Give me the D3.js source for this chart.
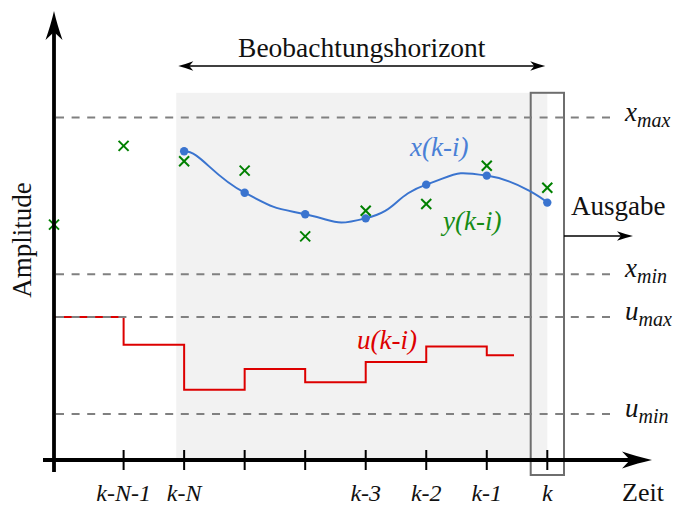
<!DOCTYPE html>
<html>
<head>
<meta charset="utf-8">
<script src="https://cdn.jsdelivr.net/npm/d3@7/dist/d3.min.js"></script>
<style>
  html, body { margin: 0; padding: 0; background: #fff; }
</style>
</head>
<body>
<svg id="chart" width="678" height="506"></svg>
<script>
// Time steps: index 0 = k-N-1 ... index 7 = k; t0 is the origin of the time axis
const t0 = -1.15;
const tickIndex = [0, 1, 2, 3, 4, 5, 6, 7];
const tickLabels = ["k-N-1", "k-N", "", "", "k-3", "k-2", "k-1", "k"];

// Estimated states x(k-i) at k-N ... k
const stateTimes = [1, 2, 3, 4, 5, 6, 7];
const stateValues = [68.6, 59.4, 54.6, 53.7, 61.2, 63.2, 57.2];

// Measurements y(k-i)
const measTimes = [t0, 0, 1, 2, 3, 4, 5, 6, 7];
const measValues = [52.3, 69.8, 66.4, 64.3, 49.7, 55.4, 56.9, 65.4, 60.5];

// Inputs u(k-i), piecewise constant
const inputTimes = [t0, 0, 1, 2, 3, 4, 5, 6, 6.45];
const inputValues = [31.8, 25.6, 15.6, 20.2, 17.3, 21.8, 25.2, 23.3, 23.3];

// Constraint levels
const limitNames = [["x", "max"], ["x", "min"], ["u", "max"], ["u", "min"]];
const limitValues = [76.1, 41.3, 31.8, 10.2];

// Observation horizon
const horizonStart = 0.87;
const horizonEnd = 7;
const horizonTop = 81.6;

const svg = d3.select("#chart");
const x = d3.scaleLinear().domain([t0, 7]).range([54, 547.3]);
const y = d3.scaleLinear().domain([0, 100]).range([460, 10]);

function label(parent, px, py, str, size, opts = {}) {
  const t = parent.append("text").attr("x", px).attr("y", py)
    .style("font-family", '"Liberation Serif"')
    .style("font-size", size + "px")
    .attr("fill", opts.color || "#111")
    .attr("text-anchor", opts.anchor || "start");
  if (opts.italic) t.style("font-style", "italic");
  if (str !== null) t.text(str);
  return t;
}

// stealth-style arrow head: tip (tx,ty), direction angle, length, half width, notch inset
function arrowHead(g, tx, ty, ang, len, hw, inset, color) {
  const c = Math.cos(ang), s = Math.sin(ang);
  const pt = (a, b) => [tx - a * c - b * s, ty - a * s + b * c];
  const p = d3.path();
  const A = pt(0, 0), B = pt(len, hw), C = pt(len - inset, 0), D = pt(len, -hw);
  p.moveTo(A[0], A[1]);
  p.quadraticCurveTo(...pt(len * 0.45, hw * 0.35), B[0], B[1]);
  p.lineTo(C[0], C[1]);
  p.lineTo(D[0], D[1]);
  p.quadraticCurveTo(...pt(len * 0.45, -hw * 0.35), A[0], A[1]);
  p.closePath();
  g.append("path").attr("d", p.toString()).attr("fill", color);
}

// loose smooth spline through points (tension-style control points),
// leaving the first point horizontally
function smoothPath(pts, f = 0.275) {
  const p = d3.path();
  const n = pts.length;
  p.moveTo(pts[0][0], pts[0][1]);
  for (let i = 0; i < n - 1; i++) {
    const a = pts[i], b = pts[i + 1];
    let c0, c1;
    if (i === 0) {
      c0 = [a[0] + f * (pts[Math.min(2, n - 1)][0] - a[0]) * 0.5, a[1]];
    } else {
      const pr = pts[i - 1];
      c0 = [a[0] + f * (b[0] - pr[0]), a[1] + f * (b[1] - pr[1])];
    }
    if (i === n - 2) {
      c1 = [b[0], b[1]];
    } else {
      const nx = pts[i + 2];
      c1 = [b[0] - f * (nx[0] - a[0]), b[1] - f * (nx[1] - a[1])];
    }
    p.bezierCurveTo(c0[0], c0[1], c1[0], c1[1], b[0], b[1]);
  }
  return p.toString();
}

// observation window background
svg.append("rect")
  .attr("x", x(horizonStart)).attr("y", y(horizonTop))
  .attr("width", x(horizonEnd) - x(horizonStart))
  .attr("height", y(0) - y(horizonTop))
  .attr("fill", "#f2f2f2");

// output step frame around k
svg.append("rect")
  .attr("x", x(7) - 16.6).attr("y", y(horizonTop))
  .attr("width", 33.3).attr("height", y(0) - y(horizonTop) + 15)
  .attr("fill", "none").attr("stroke", "#6e6e6e").attr("stroke-width", 2);

// input trajectory
svg.append("path")
  .datum(inputTimes.map((t, i) => [t, inputValues[i]]))
  .attr("d", d3.line().x(d => x(d[0])).y(d => y(d[1])).curve(d3.curveStepAfter))
  .attr("fill", "none").attr("stroke", "#dd0000").attr("stroke-width", 2);

// constraint lines and labels
limitValues.forEach((v, i) => {
  svg.append("line")
    .attr("x1", x(t0) + 2).attr("x2", 610)
    .attr("y1", y(v)).attr("y2", y(v))
    .attr("stroke", "#808080").attr("stroke-width", 2)
    .attr("stroke-dasharray", "8,7.6");
  const t = label(svg, 625, y(v) + 3, null, 27, { italic: true });
  t.append("tspan").text(limitNames[i][0]);
  t.append("tspan").attr("dy", 6).style("font-size", "20px").text(limitNames[i][1]);
});

// state trajectory
const statePts = stateTimes.map((t, i) => [x(t), y(stateValues[i])]);
svg.append("path")
  .attr("d", smoothPath(statePts))
  .attr("fill", "none").attr("stroke", "#3a74cf").attr("stroke-width", 2);

svg.selectAll("circle.state")
  .data(stateTimes.map((t, i) => [t, stateValues[i]]))
  .join("circle").attr("class", "state")
  .attr("cx", d => x(d[0])).attr("cy", d => y(d[1])).attr("r", 4.2)
  .attr("fill", "#3a74cf");

// measurements
const cross = svg.append("g").attr("stroke", "#008000").attr("stroke-width", 2);
measTimes.forEach((t, i) => {
  const cx = x(t), cy = y(measValues[i]), r = 5;
  cross.append("line").attr("x1", cx - r).attr("y1", cy - r).attr("x2", cx + r).attr("y2", cy + r);
  cross.append("line").attr("x1", cx - r).attr("y1", cy + r).attr("x2", cx + r).attr("y2", cy - r);
});

// axes
const axes = svg.append("g");
axes.append("line").attr("x1", 43).attr("x2", 630).attr("y1", y(0)).attr("y2", y(0))
  .attr("stroke", "#000").attr("stroke-width", 3.8);
arrowHead(axes, 652, y(0), 0, 30, 8.5, 8, "#000");
axes.append("line").attr("x1", x(t0)).attr("x2", x(t0)).attr("y1", 472).attr("y2", 32)
  .attr("stroke", "#000").attr("stroke-width", 3.8);
arrowHead(axes, x(t0), 11, -Math.PI / 2, 29, 8.5, 8, "#000");

// ticks
axes.selectAll("line.tick").data(tickIndex).join("line").attr("class", "tick")
  .attr("x1", d => x(d)).attr("x2", d => x(d))
  .attr("y1", y(0) - 10).attr("y2", y(0) + 10)
  .attr("stroke", "#000").attr("stroke-width", 2);
tickIndex.forEach((d, i) => {
  if (tickLabels[i]) label(axes, x(d), 501, tickLabels[i], 24, { italic: true, anchor: "middle" });
});

label(svg, 643, 501, "Zeit", 26, { anchor: "middle" });

label(svg, 0, 0, "Amplitude", 27, { anchor: "middle" })
  .attr("transform", "translate(31,240) rotate(-90)");

// observation horizon arrow
const hz = svg.append("g");
const hy = 66, hx1 = x(horizonStart) + 2, hx2 = x(horizonEnd) - 2;
hz.append("line").attr("x1", hx1 + 6).attr("x2", hx2 - 6).attr("y1", hy).attr("y2", hy)
  .attr("stroke", "#000").attr("stroke-width", 1.6);
arrowHead(hz, hx2, hy, 0, 15, 4.8, 4, "#000");
arrowHead(hz, hx1, hy, Math.PI, 15, 4.8, 4, "#000");
label(svg, (hx1 + hx2) / 2, 57, "Beobachtungshorizont", 27.5, { anchor: "middle" });

// output arrow
const ox1 = x(7) + 16.7, oy = 236;
svg.append("line").attr("x1", ox1).attr("x2", 625).attr("y1", oy).attr("y2", oy)
  .attr("stroke", "#000").attr("stroke-width", 1.6);
arrowHead(svg, 633, oy, 0, 16, 4.8, 4, "#000");
label(svg, 571, 215, "Ausgabe", 27);

// series labels
label(svg, 410, 156, "x(k-i)", 27, { italic: true, color: "#4a80d6" });
label(svg, 443, 230, "y(k-i)", 27, { italic: true, color: "#168c16" });
label(svg, 357, 349, "u(k-i)", 27, { italic: true, color: "#dd0000" });
</script>
</body>
</html>
